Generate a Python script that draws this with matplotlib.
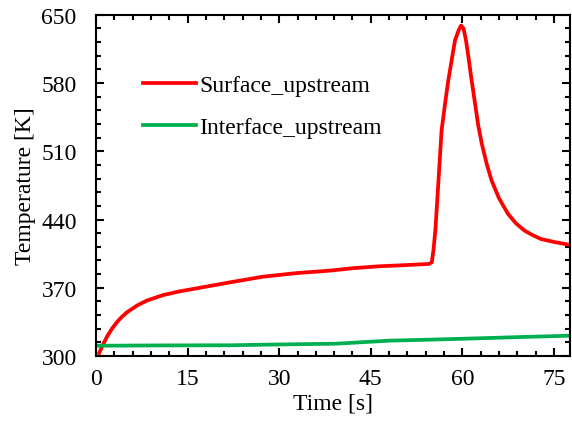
import numpy as np
import matplotlib
matplotlib.use('Agg')
import matplotlib.pyplot as plt
from matplotlib.ticker import FixedLocator

# values
t_surf = [0.5, 1.0, 1.8, 2.6, 3.4, 4.2, 5.1, 6.7, 8.3, 11.0, 13.7, 16.5, 21.9,
          27.3, 32.8, 38.2, 42.0, 46.3, 50.0, 54.5, 55.0, 55.3, 55.6, 56.1, 56.6,
          57.2, 57.7, 58.3, 58.8, 59.4, 59.8, 60.2, 60.6, 61.0, 61.5, 62.1, 62.6,
          63.2, 64.0, 64.8, 66.0, 67.5, 68.8, 70.2, 71.5, 72.9, 75.0, 77.6]
T_surf = [303, 310, 320, 328, 334.6, 340, 345, 351.7, 356.8, 362.5, 366.3, 369.4,
          375.5, 381.3, 385, 387.5, 390, 392, 393, 394.4, 396, 410, 430, 480, 531,
          560, 582.5, 605, 623.6, 634, 639, 636, 624, 607, 584, 558.6, 537, 517.6,
          497, 480, 462, 445.7, 436, 428.6, 424, 420, 417, 414]

t_int = [0, 10, 22, 30, 39.3, 48, 55, 62, 70, 77.6]
T_int = [310.5, 310.8, 311, 311.8, 312.6, 315.7, 316.8, 318, 319.5, 320.8]

y_major = [300, 370, 440, 510, 580, 650]

plt.rcParams['font.family'] = ['Liberation Serif', 'DejaVu Serif']
plt.rcParams['font.size'] = 17

fig = plt.figure(figsize=(5.72, 4.27), dpi=100)
ax = fig.add_axes([0.168, 0.164, 0.828, 0.799])

ax.plot(t_surf, T_surf, color='#ff0000', lw=2.7, label='Surface_upstream')
ax.plot(t_int, T_int, color='#00b050', lw=2.7, label='Interface_upstream')

ax.set_xlim(0, 77.6)
ax.set_ylim(300, 650)
ax.xaxis.set_major_locator(FixedLocator(np.arange(0, 77, 15)))
ax.xaxis.set_minor_locator(FixedLocator(np.arange(0, 78, 3)))
ax.yaxis.set_major_locator(FixedLocator(y_major))
ax.yaxis.set_minor_locator(FixedLocator(np.arange(300, 651, 14)))
ax.tick_params(which='both', direction='in', top=True, right=True, width=1.5)
ax.tick_params(which='major', length=6)
ax.tick_params(axis='y', which='major', pad=14)
ax.tick_params(axis='x', which='major', pad=9)
ax.tick_params(which='minor', length=3.5)
for s in ax.spines.values():
    s.set_linewidth(1.5)

ax.set_xlabel('Time [s]', labelpad=2)
ax.set_ylabel('Temperature [K]', labelpad=4)

ax.legend(loc='upper left', bbox_to_anchor=(0.054, 0.888), frameon=False,
          handlelength=2.25, handletextpad=0.15, labelspacing=0.88)

fig.savefig('out.png', dpi=100)
